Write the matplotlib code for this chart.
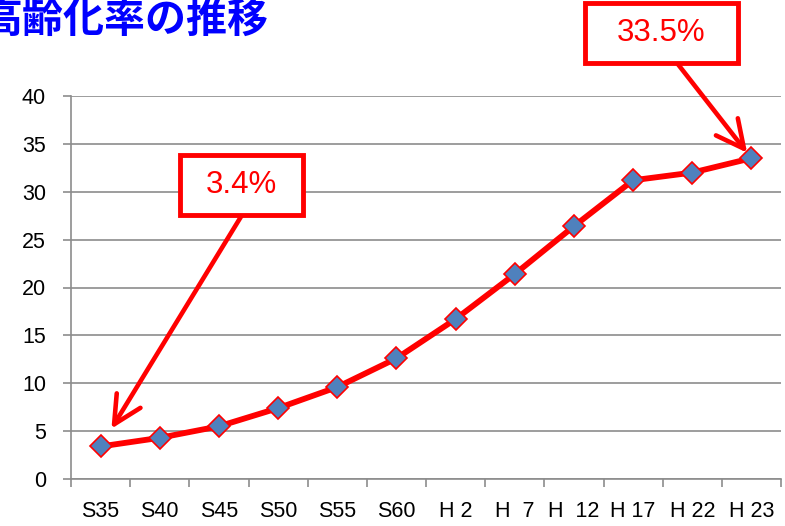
import matplotlib
matplotlib.use('Agg')
import matplotlib.pyplot as plt
from matplotlib.patches import Rectangle
import numpy as np

# データ
years = ['S35', 'S40', 'S45', 'S50', 'S55', 'S60', 'H 2', 'H  7', 'H  12', 'H 17', 'H 22', 'H 23']
rates = [3.4, 4.3, 5.5, 7.4, 9.6, 12.6, 16.7, 21.4, 26.4, 31.2, 32.0, 33.5]
title = '高齢化率の推移'
label_first = '3.4%'
label_last = '33.5%'

W, H = 785, 526
fig = plt.figure(figsize=(W / 100, H / 100), dpi=100)
ax = fig.add_axes([71 / W, 1 - 479 / H, 710 / W, 383 / H])

x = np.arange(len(years))
ax.plot(x, rates, color='#ff0000', lw=4.2, marker='D', markersize=11,
        markerfacecolor='#4f81bd', markeredgecolor='#ff0000', markeredgewidth=1.2,
        zorder=3, clip_on=False)

ax.set_xlim(-0.5, len(years) - 0.5)
ax.set_ylim(0, 40)
ax.set_yticks(np.arange(0, 41, 5))
ax.set_xticks(x)
ax.set_xticklabels(years)
ax.set_xticks(np.arange(-0.5, len(years), 1), minor=True)

grid_c = '#8c8c8c'
ax.yaxis.grid(True, color=grid_c, lw=1.2)
ax.set_axisbelow(True)
for s in ['top', 'right']:
    ax.spines[s].set_visible(False)
for s in ['left', 'bottom']:
    ax.spines[s].set_color(grid_c)
    ax.spines[s].set_linewidth(1.2)

ax.tick_params(axis='y', length=6, width=1.2, color=grid_c, pad=12,
               labelsize=15.5, labelcolor='black')
ax.tick_params(axis='x', which='major', length=0, pad=16,
               labelsize=15.5, labelcolor='black')
ax.tick_params(axis='x', which='minor', length=6, width=1.2, color=grid_c)
for lab in ax.get_xticklabels() + ax.get_yticklabels():
    lab.set_family('Liberation Sans')

# タイトル（左端は元図でも切れている）
fig.text(-18 / W, 1 - 33 / H, title, fontsize=29.5, fontweight='bold',
         color='#0000ff', family=['Noto Sans CJK JP', 'DejaVu Sans'], va='baseline')

# 吹き出し
boxes = [
    (585, 3, 738, 63, label_last, len(years) - 1, rates[-1], (677, 63), 5),
    (180, 155, 303, 215, label_first, 0, rates[0], (242, 215), 15),
]
for x0, y0, x1, y1, txt, xi, yv, start, shr in boxes:
    rect = Rectangle((x0 / W, 1 - y1 / H), (x1 - x0) / W, (y1 - y0) / H,
                     transform=fig.transFigure, facecolor='white',
                     edgecolor='#ff0000', lw=3.5, zorder=5)
    fig.patches.append(rect)
    fig.text((x0 + x1) / 2 / W, 1 - (y0 + y1) / 2 / H, txt, fontsize=22.5,
             color='#ff0000', family='Liberation Sans', ha='center', va='center', zorder=6)
    ax.annotate('', xy=(xi, yv), xycoords='data',
                xytext=(start[0], H - start[1]), textcoords='figure pixels',
                arrowprops=dict(arrowstyle='->,head_length=1.0,head_width=0.5',
                                color='#ff0000', lw=3.3, shrinkA=0, shrinkB=shr,
                                mutation_scale=20),
                annotation_clip=False, zorder=4)

fig.savefig('out.png', dpi=100)
